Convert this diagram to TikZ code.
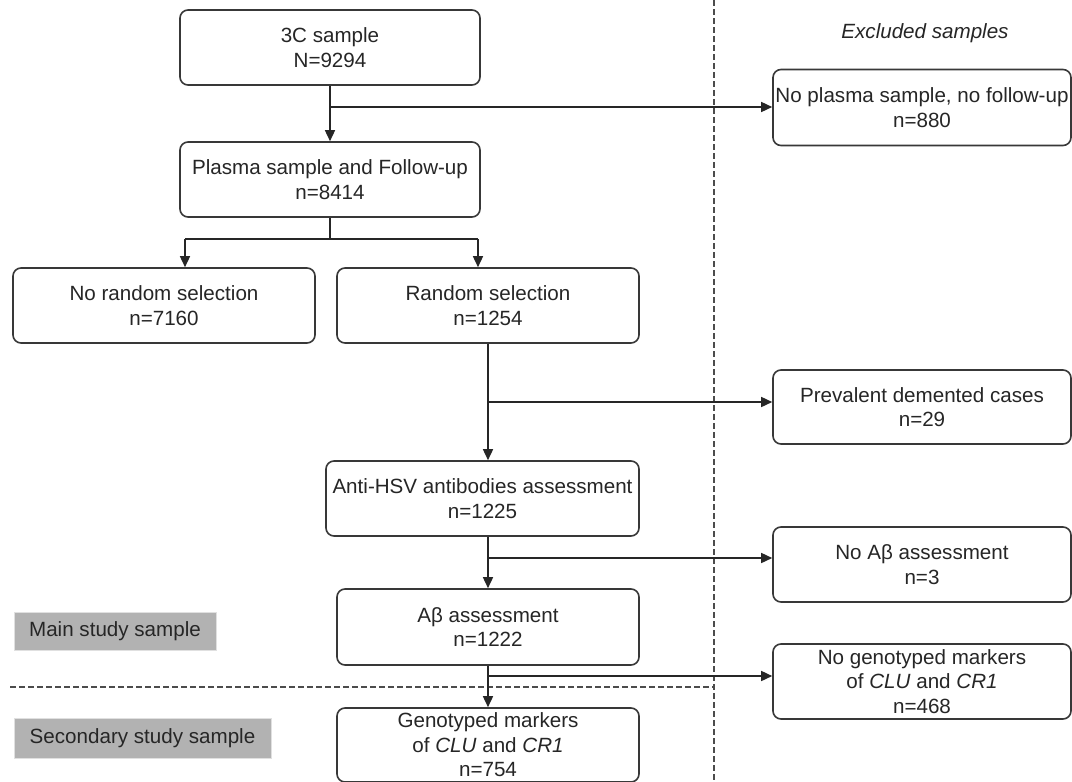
\documentclass[tikz,border=0pt]{standalone}
\usepackage{fontspec}
\setmainfont{Liberation Sans}
\usetikzlibrary{arrows.meta}
\newcommand\flowfont{\fontsize{20.6}{24.5}\selectfont}

\begin{document}
\begin{tikzpicture}[x=1pt, y=-1pt, font=\flowfont, text=black!85,
        stage/.style={draw=black!78, line width=1.6pt, rounded corners=8pt, align=center, inner sep=0pt, minimum height=75pt},
        link/.style={draw=black!85, line width=1.5pt},
        flow/.style={link, -{Triangle[length=11pt, width=10pt]}},
        split/.style={draw=black!70, line width=1.5pt, dash pattern=on 5.5pt off 3.5pt},
        tag/.style={fill=black!30, draw=black!12, inner sep=0pt}]
    \fill[white] (0, 0) rectangle (1072, 782);
    \useasboundingbox (0, 0) rectangle (1072, 782);

    \draw[split] (714, 0) -- (714, 782);
    \draw[split] (10, 687) -- (714, 687);

    \node[stage, minimum width=300pt] (c3) at (330, 47.5) {3C sample\\N=9294};
    \node[stage, minimum width=300pt] (plasma) at (330, 179.5) {Plasma sample and Follow-up\\n=8414};
    \node[stage, minimum width=302pt] (norandom) at (164, 305.5) {No random selection\\n=7160};
    \node[stage, minimum width=302pt] (random) at (488, 305.5) {Random selection\\n=1254};
    \node[stage, minimum width=313pt] (antihsv) at (482.5, 498.5) {Anti-HSV antibodies assessment\\n=1225};
    \node[stage, minimum width=302pt, minimum height=76pt] (ab) at (488, 627) {Aβ assessment\\n=1222};
    \node[stage, minimum width=302pt, minimum height=74pt] (geno) at (488, 745) {Genotyped markers\\of \textit{CLU} and \textit{CR1}\\n=754};

    \node[font=\flowfont\itshape] (excl) at (925, 33) {Excluded samples};
    \node[stage, minimum width=298pt, minimum height=76pt] (noplasma) at (922, 107.5) {No plasma sample, no follow-up\\n=880};
    \node[stage, minimum width=298pt, minimum height=74pt] (prevalent) at (922, 407) {Prevalent demented cases\\n=29};
    \node[stage, minimum width=298pt] (noab) at (922, 564.5) {No Aβ assessment\\n=3};
    \node[stage, minimum width=298pt] (nogeno) at (922, 681.5) {No genotyped markers\\of \textit{CLU} and \textit{CR1}\\n=468};

    \node[tag, minimum width=202pt, minimum height=38pt] (mainsample) at (115, 631) {Main study sample};
    \node[tag, minimum width=257pt, minimum height=40pt] (secsample) at (142.5, 738) {Secondary study sample};

    \coordinate (b1) at (330, 107);
    \draw[flow] (c3) -- (plasma);
    \draw[flow] (b1) -- (b1 -| noplasma.west);

    \coordinate (b2) at (330, 239);
    \coordinate (l2) at (185, 239);
    \coordinate (r2) at (478, 239);
    \draw[link] (plasma) -- (b2);
    \draw[link] (l2) -- (r2);
    \draw[flow] (l2) -- (l2 |- norandom.north);
    \draw[flow] (r2) -- (r2 |- random.north);

    \coordinate (b3) at (488, 402);
    \draw[flow] (random.south) -- (random.south |- antihsv.north);
    \draw[flow] (b3) -- (b3 -| prevalent.west);

    \coordinate (b4) at (488, 558);
    \draw[flow] (random.south |- antihsv.south) -- (ab.north);
    \draw[flow] (b4) -- (b4 -| noab.west);

    \coordinate (b5) at (488, 676);
    \draw[flow] (ab.south) -- (geno.north);
    \draw[flow] (b5) -- (b5 -| nogeno.west);
\end{tikzpicture}
\end{document}
